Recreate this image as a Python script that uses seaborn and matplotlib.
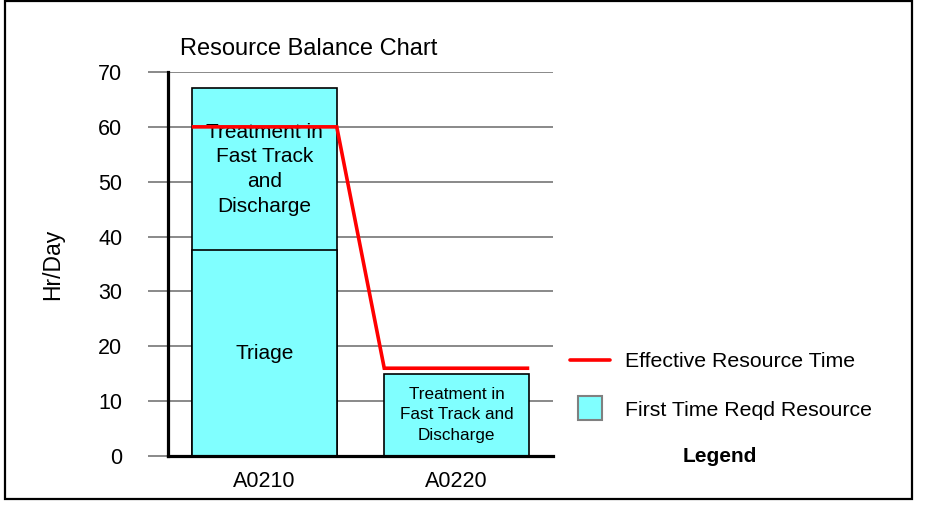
import numpy as np
import pandas as pd
import matplotlib
matplotlib.use("Agg")
import matplotlib.pyplot as plt
import seaborn as sns
from matplotlib.lines import Line2D
from matplotlib.patches import Rectangle

# ---- data ----
categories = ["A0210", "A0220"]
triage = [37.5, 0.0]
treatment = [29.6, 15.0]
effective = [60.0, 16.0]
triage_labels = ["Triage", ""]
treatment_labels = ["Treatment in\nFast Track\nand\nDischarge",
                    "Treatment in\nFast Track and\nDischarge"]
y_ticks = [0, 10, 20, 30, 40, 50, 60, 70]
title = "Resource Balance Chart"
y_label = "Hr/Day"
legend_labels = ["Effective Resource Time", "First Time Reqd Resource"]

sns.set_theme(style="white")
plt.rcParams['font.family'] = ['Liberation Sans', 'DejaVu Sans']
plt.rcParams['text.color'] = 'black'
plt.rcParams['axes.labelcolor'] = 'black'
plt.rcParams['xtick.color'] = 'black'
plt.rcParams['ytick.color'] = 'black'

CYAN = "#80FFFF"
RED = "#FF0000"
GRID = "#808080"
W, H = 932, 515

fig = plt.figure(figsize=(W / 100, H / 100), dpi=100)
ax = fig.add_axes([168 / W, 1 - 456 / H, 385 / W, 384 / H])

totals = [a + b for a, b in zip(triage, treatment)]
df = pd.DataFrame({"cat": categories, "total": totals, "triage": triage})
bar_w = 145 / 192.5

sns.barplot(data=df, x="cat", y="total", order=categories, color=CYAN,
            saturation=1, width=bar_w, edgecolor="black", linewidth=1.2,
            errorbar=None, ax=ax, zorder=2)
df_tri = df[df["triage"] > 0]
sns.barplot(data=df_tri, x="cat", y="triage", order=categories, color=CYAN,
            saturation=1, width=bar_w, edgecolor="black", linewidth=1.2,
            errorbar=None, ax=ax, zorder=2)

# segment labels
for i in range(len(categories)):
    fs = 15 if i == 0 else 12.3
    ls = 1.38 if i == 0 else 1.47
    if triage_labels[i]:
        ax.text(i, triage[i] / 2, triage_labels[i], ha="center", va="center",
                fontsize=15, color="black", zorder=3)
    ax.text(i, triage[i] + treatment[i] / 2, treatment_labels[i],
            ha="center", va="center", fontsize=fs, linespacing=ls,
            color="black", zorder=3)

# effective resource time line (step across bar widths)
xs, ys = [], []
for i, v in enumerate(effective):
    xs += [i - bar_w / 2, i + bar_w / 2]
    ys += [v, v]
ax.plot(xs, ys, color=RED, lw=2.6, zorder=4, solid_capstyle="butt",
        solid_joinstyle="miter")

ax.set_xlim(-0.5, len(categories) - 0.5)
ax.set_ylim(0, 70)
ax.set_yticks(y_ticks)
ax.set_xlabel("")
ax.set_ylabel(y_label, fontsize=16.5)
ax.yaxis.set_label_coords(-0.27, 0.5)

ax.set_axisbelow(True)
ax.yaxis.grid(True, color=GRID, lw=1.3)
ax.xaxis.grid(False)
ax.tick_params(axis="y", left=True, length=14.4, width=1.3, color=GRID,
               labelcolor="black", pad=18.5, labelsize=15.5, direction="out")
ax.tick_params(axis="x", bottom=False, length=0, pad=11, labelsize=15.5,
               labelcolor="black")
for s in ["top", "right"]:
    ax.spines[s].set_visible(False)
for s in ["left", "bottom"]:
    ax.spines[s].set_color("black")
    ax.spines[s].set_linewidth(2.3)
    ax.spines[s].set_zorder(5)

fig.text(308.5 / W, 1 - 49 / H, title, ha="center", va="center", fontsize=17)

handles = [Line2D([], [], color=RED, lw=2.6),
           Line2D([], [], marker="s", ms=17, mfc=CYAN, mec=GRID, mew=1.5,
                  ls="none")]
fig.legend(handles, legend_labels, loc="upper left",
           bbox_to_anchor=(570 / W, 1 - 352 / H), frameon=False,
           fontsize=15.3, handlelength=1.9, handletextpad=0.7,
           labelspacing=1.4, borderpad=0, borderaxespad=0)
fig.text(720 / W, 1 - 456 / H, "Legend", ha="center", va="center",
         fontsize=15, fontweight="bold")

fig.add_artist(Rectangle((5 / W, 1 - 499 / H), 907 / W, 498 / H,
                         transform=fig.transFigure, fill=False,
                         ec="black", lw=1.6))

fig.savefig("out.png", dpi=100)
